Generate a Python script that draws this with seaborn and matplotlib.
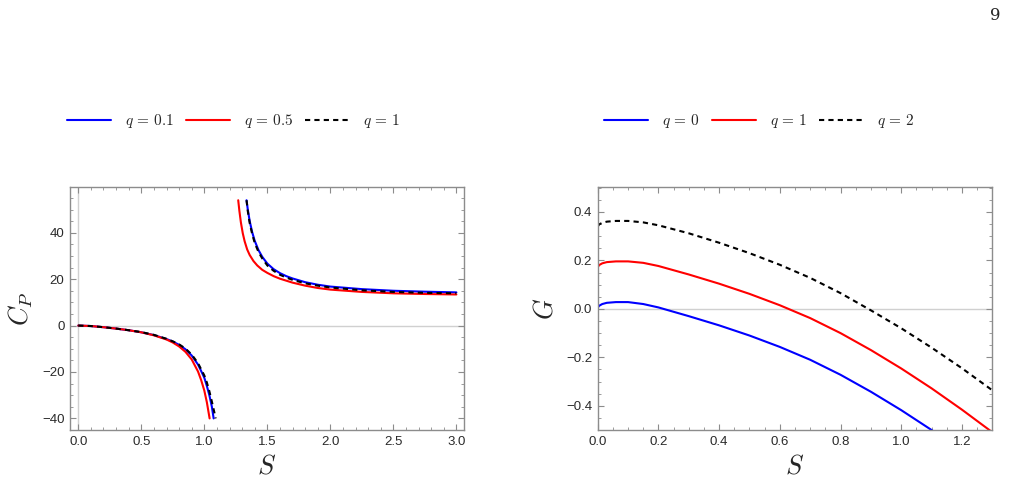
import numpy as np
import pandas as pd
import matplotlib
matplotlib.use("Agg")
import matplotlib.pyplot as plt
from matplotlib.lines import Line2D
from matplotlib.ticker import MultipleLocator
import seaborn as sns

# ---- left panel data: C_P vs S (two branches per curve) ----
s_low_q01 = [0, 0.1, 0.2, 0.3, 0.4, 0.5, 0.6, 0.7, 0.75, 0.8, 0.85, 0.9, 0.95, 0.975, 1.0, 1.02, 1.04, 1.06, 1.074]
cp_low_q01 = [0, -0.2, -0.7, -1.3, -2.0, -2.9, -4.1, -5.8, -6.9, -8.3, -10.2, -12.9, -16.8, -19.6, -22.5, -26.0, -30.0, -35.0, -40.0]
s_up_q01 = [1.335, 1.345, 1.36, 1.38, 1.40, 1.43, 1.46, 1.5, 1.55, 1.6, 1.65, 1.7, 1.8, 1.9, 2.0, 2.25, 2.5, 2.75, 3.0]
cp_up_q01 = [54, 50.0, 45.0, 40.2, 36.5, 32.5, 29.6, 26.7, 24.3, 22.6, 21.3, 20.3, 18.7, 17.6, 16.8, 15.7, 15.0, 14.6, 14.3]

s_low_q05 = [0, 0.1, 0.2, 0.3, 0.4, 0.5, 0.6, 0.7, 0.75, 0.8, 0.85, 0.9, 0.95, 0.975, 1.0, 1.02, 1.042]
cp_low_q05 = [0, -0.2, -0.7, -1.3, -2.0, -2.9, -4.2, -6.0, -7.3, -9.0, -11.3, -14.6, -19.8, -23.5, -28.0, -33.0, -40.0]
s_up_q05 = [1.269, 1.278, 1.29, 1.305, 1.32, 1.34, 1.36, 1.39, 1.42, 1.46, 1.5, 1.55, 1.6, 1.7, 1.8, 1.9, 2.0, 2.25, 2.5, 2.75, 3.0]
cp_up_q05 = [54, 49.5, 44.5, 39.8, 36.3, 32.8, 30.4, 27.8, 25.9, 24.0, 22.7, 21.3, 20.2, 18.5, 17.2, 16.2, 15.5, 14.5, 13.9, 13.6, 13.4]

s_low_q1 = [0, 0.1, 0.2, 0.3, 0.4, 0.5, 0.6, 0.7, 0.75, 0.8, 0.85, 0.9, 0.95, 1.0, 1.02, 1.04, 1.06, 1.08, 1.09]
cp_low_q1 = [0, -0.2, -0.7, -1.3, -2.0, -2.8, -4.0, -5.7, -6.8, -8.1, -9.9, -12.5, -16.2, -21.5, -24.5, -28.3, -32.8, -37.5, -40.0]
s_up_q1 = [1.335, 1.345, 1.36, 1.38, 1.40, 1.43, 1.46, 1.5, 1.55, 1.6, 1.65, 1.7, 1.8, 1.9, 2.0, 2.25, 2.5, 2.75, 3.0]
cp_up_q1 = [54, 49.3, 44.2, 39.4, 35.6, 31.7, 28.9, 25.9, 23.6, 21.9, 20.7, 19.7, 18.2, 17.2, 16.4, 15.2, 14.5, 14.1, 13.9]

# ---- right panel data: G vs S ----
s_g = [0, 0.005, 0.015, 0.03, 0.06, 0.1, 0.15, 0.2, 0.3, 0.4, 0.5, 0.6, 0.7, 0.8, 0.9, 1.0, 1.1, 1.2, 1.3]
g_q0 = [0.005, 0.013, 0.020, 0.025, 0.028, 0.028, 0.020, 0.006, -0.030, -0.068, -0.110, -0.157, -0.210, -0.272, -0.342, -0.418, -0.500, -0.588, -0.681]
g_q1 = [0.172, 0.181, 0.188, 0.193, 0.196, 0.196, 0.190, 0.177, 0.142, 0.104, 0.062, 0.015, -0.038, -0.100, -0.170, -0.246, -0.328, -0.416, -0.509]
g_q2 = [0.340, 0.349, 0.355, 0.360, 0.363, 0.363, 0.357, 0.345, 0.312, 0.273, 0.230, 0.182, 0.128, 0.065, -0.006, -0.080, -0.160, -0.245, -0.336]

left_labels = ['$q\\,=\\,0.1$', '$q\\,=\\,0.5$', '$q\\,=\\,1$']
right_labels = ['$q\\,=\\,0$', '$q\\,=\\,1$', '$q\\,=\\,2$']
colors = ['#0000ff', '#ff0000', '#000000']
dash = (2.5, 2)

# build long tables for seaborn
rows = []
for lab, sl, cl, su, cu in zip(left_labels,
                                [s_low_q01, s_low_q05, s_low_q1], [cp_low_q01, cp_low_q05, cp_low_q1],
                                [s_up_q01, s_up_q05, s_up_q1], [cp_up_q01, cp_up_q05, cp_up_q1]):
    rows += [dict(S=s, C=c, q=lab, branch=lab + 'low') for s, c in zip(sl, cl)]
    rows += [dict(S=s, C=c, q=lab, branch=lab + 'up') for s, c in zip(su, cu)]
df_cp = pd.DataFrame(rows)

df_g = pd.DataFrame({'S': s_g * 3,
                     'G': g_q0 + g_q1 + g_q2,
                     'q': [right_labels[0]] * len(s_g) + [right_labels[1]] * len(s_g) + [right_labels[2]] * len(s_g)})

sns.set_theme(style="ticks")
plt.rcParams['mathtext.fontset'] = 'cm'
plt.rcParams['font.family'] = ['Liberation Sans', 'DejaVu Sans']
plt.rcParams['axes.unicode_minus'] = True

fig = plt.figure(figsize=(10.11, 4.87), dpi=100)
ax1 = fig.add_axes([0.0692, 0.117, 0.3897, 0.499])
ax2 = fig.add_axes([0.5912, 0.117, 0.3903, 0.499])

frame_col = '#8c8c8c'
zero_col = '#d0d0d0'

ax1.axhline(0, color=zero_col, lw=1, zorder=0)
ax1.axvline(0, color=zero_col, lw=1, zorder=0)
sns.lineplot(data=df_cp, x='S', y='C', hue='q', style='q', units='branch', estimator=None, sort=False,
             palette=dict(zip(left_labels, colors)),
             dashes=dict(zip(left_labels, ['', '', dash])),
             linewidth=1.5, legend=False, ax=ax1)
ax1.set_xlim(-0.066, 3.06)
ax1.set_ylim(-45, 59.7)
ax1.xaxis.set_major_locator(MultipleLocator(0.5))
ax1.xaxis.set_minor_locator(MultipleLocator(0.1))
ax1.yaxis.set_major_locator(MultipleLocator(20))
ax1.yaxis.set_minor_locator(MultipleLocator(5))
ax1.set_xlabel('$S$', fontsize=19, labelpad=5)
ax1.set_ylabel('$C_P$', fontsize=19, labelpad=5)

ax2.axhline(0, color=zero_col, lw=1, zorder=0)
sns.lineplot(data=df_g, x='S', y='G', hue='q', style='q', estimator=None, sort=False,
             palette=dict(zip(right_labels, colors)),
             dashes=dict(zip(right_labels, ['', '', dash])),
             linewidth=1.5, legend=False, ax=ax2)
ax2.set_xlim(0, 1.3)
ax2.set_ylim(-0.5, 0.503)
ax2.xaxis.set_major_locator(MultipleLocator(0.2))
ax2.xaxis.set_minor_locator(MultipleLocator(0.05))
ax2.yaxis.set_major_locator(MultipleLocator(0.2))
ax2.yaxis.set_minor_locator(MultipleLocator(0.05))
ax2.set_xlabel('$S$', fontsize=19, labelpad=5)
ax2.set_ylabel('$G$', fontsize=19, labelpad=6)

for ax in (ax1, ax2):
    for sp in ax.spines.values():
        sp.set_visible(True)
        sp.set_color(frame_col)
        sp.set_linewidth(1.0)
    ax.tick_params(which='both', direction='in', top=True, right=True, color=frame_col,
                   labelsize=9.5, labelcolor='#2a2a2a', pad=4)
    ax.tick_params(which='major', length=4, width=0.8)
    ax.tick_params(which='minor', length=2, width=0.6)
    for lab in ax.get_xticklabels() + ax.get_yticklabels():
        lab.set_fontfamily('Liberation Sans')

# legends above each panel
def handles():
    return [Line2D([], [], color=colors[0], lw=1.5),
            Line2D([], [], color=colors[1], lw=1.5),
            Line2D([], [], color=colors[2], lw=1.5, dashes=dash)]

fig.legend(handles(), left_labels, loc='center', bbox_to_anchor=(0.231, 0.751), ncol=3, frameon=False,
           fontsize=11, handlelength=2.9, handletextpad=0.9, columnspacing=0.8)
fig.legend(handles(), right_labels, loc='center', bbox_to_anchor=(0.751, 0.751), ncol=3, frameon=False,
           fontsize=11, handlelength=2.9, handletextpad=0.9, columnspacing=0.8)

fig.text(0.984, 0.969, '9', fontsize=12, family='DejaVu Serif', ha='center', va='center')

fig.savefig('out.png', dpi=100)
